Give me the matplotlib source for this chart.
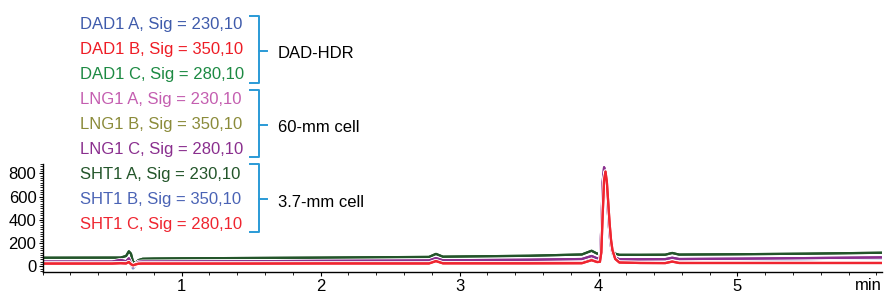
import matplotlib
matplotlib.use("Agg")
import matplotlib.pyplot as plt
import matplotlib.patheffects as pe
from matplotlib.ticker import MultipleLocator

plt.rcParams['font.family'] = ['Liberation Sans', 'DejaVu Sans']
plt.rcParams['font.size'] = 12

# retention time (min)
times = [0.0, 0.5, 0.56, 0.6, 0.62, 0.635, 0.65, 0.67, 0.69, 0.72, 0.8, 1.0, 1.5,
         2.0, 2.5, 2.78, 2.83, 2.88, 3.5, 3.88, 3.95, 3.99, 4.01, 4.02, 4.03,
         4.04, 4.05, 4.06, 4.07, 4.08, 4.09, 4.1, 4.12, 4.15, 4.3, 4.48, 4.53,
         4.58, 5.0, 5.5, 6.04]

# signal (mAU)
dad1_a = [38, 38, 44, 40, 62, 28, 5, 22, 36, 38, 38, 39, 41, 44, 46, 48, 66, 49, 54,
          60, 84, 66, 70, 310, 710, 838, 790, 610, 410, 260, 165, 110, 74, 58, 58,
          59, 70, 60, 63, 68, 74]
dad1_b = [28, 28, 30, 28, 40, 22, 12, 20, 27, 28, 28, 28, 28, 28, 28, 28, 48, 29, 30,
          32, 58, 40, 42, 130, 470, 750, 818, 725, 545, 365, 228, 142, 66, 34, 30,
          29, 42, 30, 30, 30, 30]
dad1_c = [26, 26, 28, 26, 36, 20, 12, 20, 25, 26, 26, 26, 26, 26, 26, 26, 44, 27, 28,
          30, 54, 38, 40, 140, 490, 760, 812, 715, 535, 355, 220, 138, 62, 32, 28,
          27, 40, 28, 28, 28, 28]
lng1_a = [40, 40, 52, 42, 68, 30, 2, 24, 38, 40, 40, 41, 43, 46, 48, 50, 70, 51, 56,
          62, 88, 68, 72, 315, 715, 842, 792, 612, 412, 262, 168, 112, 76, 60, 60,
          61, 73, 62, 65, 70, 76]
lng1_b = [27, 27, 29, 27, 38, 21, 12, 20, 26, 27, 27, 27, 27, 27, 27, 27, 46, 28, 29,
          31, 56, 39, 41, 135, 480, 755, 815, 720, 540, 360, 224, 140, 64, 33, 29,
          28, 41, 29, 29, 29, 29]
lng1_c = [42, 42, 56, 44, 70, 30, 0, 25, 40, 42, 42, 43, 45, 48, 50, 52, 72, 53, 58,
          64, 90, 70, 75, 325, 728, 852, 796, 615, 415, 265, 170, 115, 78, 62, 62,
          63, 75, 64, 67, 72, 78]
sht1_a = [75, 76, 76, 90, 130, 110, 40, 35, 55, 66, 68, 70, 73, 76, 80, 82, 108, 84, 92,
          103, 135, 110, 115, 300, 690, 815, 770, 600, 410, 262, 178, 138, 110, 100,
          100, 101, 116, 102, 105, 110, 118]
sht1_b = [35, 35, 40, 36, 55, 20, -15, 15, 32, 35, 35, 36, 38, 40, 42, 44, 62, 45, 50,
          56, 80, 62, 66, 300, 700, 835, 785, 605, 405, 255, 160, 106, 70, 54, 54,
          55, 66, 56, 59, 64, 70]
sht1_c = [25, 25, 28, 26, 38, 20, 10, 18, 24, 25, 25, 25, 25, 26, 26, 26, 46, 27, 27,
          28, 54, 38, 40, 120, 450, 740, 815, 725, 545, 365, 228, 142, 65, 34, 30,
          29, 42, 30, 30, 30, 30]

legend_labels = ["DAD1 A, Sig = 230,10", "DAD1 B, Sig = 350,10", "DAD1 C, Sig = 280,10",
                 "LNG1 A, Sig = 230,10", "LNG1 B, Sig = 350,10", "LNG1 C, Sig = 280,10",
                 "SHT1 A, Sig = 230,10", "SHT1 B, Sig = 350,10", "SHT1 C, Sig = 280,10"]
legend_colors = ["#3f5bab", "#ee1c25", "#1d8a43",
                 "#c45eb0", "#8b8b3a", "#8a2f8e",
                 "#23552a", "#4a63b5", "#ef2530"]
group_labels = ["DAD-HDR", "60-mm cell", "3.7-mm cell"]

W, H = 884, 295


def fx(x):
    return x / W


def fy(y):
    return 1 - y / H


fig = plt.figure(figsize=(W / 100, H / 100), dpi=100)
ax = fig.add_axes([fx(42.7), fy(272.3), fx(882) - fx(42.7), fy(164) - fy(272.3)])

# drawing order: hidden ones first, red on top
series = [dad1_c, lng1_b, sht1_a, dad1_a, sht1_b, lng1_a, lng1_c, dad1_b, sht1_c]
series_colors = ["#1d8a43", "#8b8b3a", "#23552a", "#3f5bab", "#4a63b5", "#c45eb0",
                 "#8a2f8e", "#ee1c25", "#ef2530"]
for ys, c in zip(series, series_colors):
    ax.plot(times, ys, color=c, lw=1.6, solid_joinstyle='round',
            path_effects=[pe.withStroke(linewidth=2.8, foreground='white'), pe.Normal()])

ax.set_xlim(0, 6.04)
ax.set_ylim(-50, 880)
for s in ['top', 'right']:
    ax.spines[s].set_visible(False)
ax.spines['left'].set_linewidth(1.0)
ax.spines['bottom'].set_linewidth(1.0)

ax.xaxis.set_major_locator(MultipleLocator(1))
ax.xaxis.set_minor_locator(MultipleLocator(0.2))
ax.yaxis.set_major_locator(MultipleLocator(200))
ax.yaxis.set_minor_locator(MultipleLocator(20))
ax.tick_params(axis='both', which='major', length=3, width=0.8, labelsize=12, pad=1.5)
ax.tick_params(axis='both', which='minor', length=2, width=0.6)
ax.set_xticks([1, 2, 3, 4, 5])
ax.set_xticklabels(["1", "2", "3", "4", "5"])
ax.text(1.0, -0.055, "min", transform=ax.transAxes, ha='right', va='top', fontsize=12)

# legend text rows
for i, (lab, c) in enumerate(zip(legend_labels, legend_colors)):
    fig.text(fx(80), fy(28.5 + 25.1 * i), lab, color=c, fontsize=12, va='baseline', ha='left')

# brackets
bcol = "#2a9ad6"
brackets = [(16, 50.7, 82.7), (90, 125, 156.7), (164.3, 199.3, 232.3)]
for (top, mid, bot), glab in zip(brackets, group_labels):
    fig.add_artist(plt.Line2D([fx(250), fx(259), fx(259), fx(250)],
                              [fy(top), fy(top), fy(bot), fy(bot)],
                              transform=fig.transFigure, color=bcol, lw=1.4,
                              solid_joinstyle='round'))
    fig.add_artist(plt.Line2D([fx(259), fx(267)], [fy(mid), fy(mid)],
                              transform=fig.transFigure, color=bcol, lw=1.4))
    fig.text(fx(278), fy(mid + 7.5), glab, color='black', fontsize=12, va='baseline', ha='left')

fig.savefig("out.png", dpi=100)
